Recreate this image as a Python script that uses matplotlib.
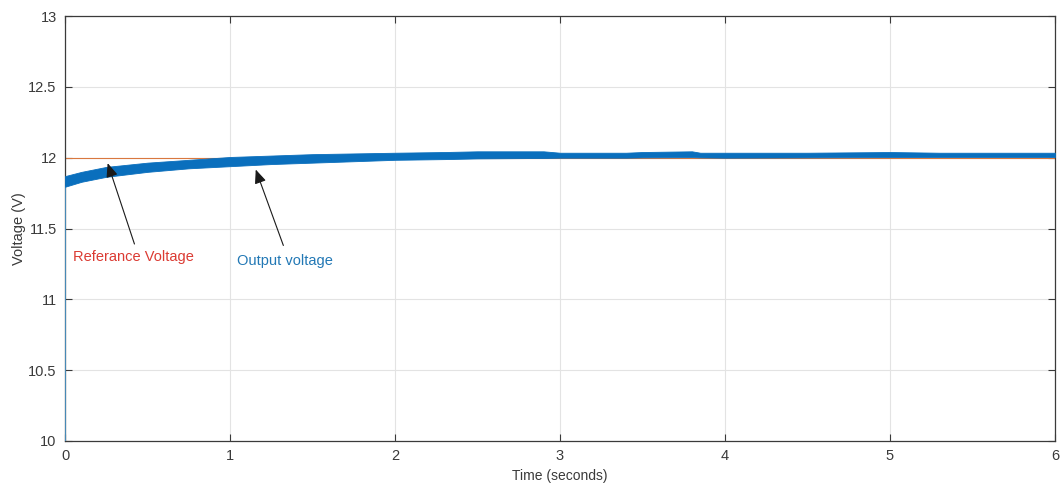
import matplotlib
matplotlib.use('Agg')
import matplotlib.pyplot as plt

plt.rcParams['font.family'] = ['Liberation Sans', 'DejaVu Sans']

# output voltage ripple envelope (upper / lower edge of the band)
t_env = [0.0, 0.1, 0.25, 0.5, 0.75, 1.0, 1.25, 1.5, 1.75, 2.0, 2.3, 2.5, 2.9,
         3.0, 3.4, 3.5, 3.8, 3.85, 4.0, 4.5, 5.0, 5.3, 6.0]
v_upper = [11.87, 11.90, 11.935, 11.965, 11.985, 12.005, 12.015, 12.025, 12.03,
           12.035, 12.04, 12.045, 12.045, 12.035, 12.035, 12.04, 12.045, 12.035,
           12.035, 12.035, 12.04, 12.035, 12.035]
v_lower = [11.795, 11.83, 11.865, 11.90, 11.925, 11.94, 11.955, 11.965, 11.975,
           11.985, 11.99, 11.995, 11.998, 12.0, 12.0, 12.002, 12.004, 12.002,
           12.0, 12.002, 12.004, 12.005, 12.005]
v_initial = 10.0

# reference voltage
t_ref = [0.0, 6.0]
v_ref = [12.0, 12.0]

x_ticks = [0, 1, 2, 3, 4, 5, 6]
y_ticks = [10, 10.5, 11, 11.5, 12, 12.5, 13]
y_labels = ['10', '10.5', '11', '11.5', '12', '12.5', '13']

fig = plt.figure(figsize=(10.61, 4.86), dpi=100)
ax = fig.add_axes([0.0613, 0.0926, 0.9330, 0.8744])

ax.plot(t_ref, v_ref, color='#D9783F', linewidth=0.8, zorder=2)
ax.plot([t_env[0], t_env[0]], [v_initial, v_lower[0]], color='#4a9ad0', linewidth=1.2, zorder=3)
ax.fill_between(t_env, v_lower, v_upper, color='#0a6fbd', linewidth=0.6,
                edgecolor='#0a6fbd', zorder=3)

ax.set_xlim(0, 6)
ax.set_ylim(10, 13)
ax.set_xticks(x_ticks)
ax.set_yticks(y_ticks)
ax.set_yticklabels(y_labels)
ax.grid(True, color='#e3e3e3', linewidth=0.8)
ax.set_axisbelow(True)
ax.tick_params(direction='in', length=5, top=True, right=True, colors='#3a3a3a',
               labelsize=10.5, pad=6)
for s in ax.spines.values():
    s.set_color('#3a3a3a')
    s.set_linewidth(0.9)

ax.set_xlabel('Time (seconds)', fontsize=10, color='#3a3a3a', labelpad=4)
ax.set_ylabel('Voltage (V)', fontsize=10.5, color='#3a3a3a', labelpad=1.5)

arrow = dict(arrowstyle='-|>,head_length=0.6,head_width=0.25', color='#1a1a1a',
             lw=0.8, mutation_scale=14)
ax.annotate('', xy=(0.253, 11.98), xytext=(0.426, 11.372), arrowprops=arrow, zorder=5)
ax.annotate('', xy=(1.15, 11.935), xytext=(1.329, 11.362), arrowprops=arrow, zorder=5)
ax.text(0.05, 11.30, 'Referance Voltage', color='#DB3B33', fontsize=10.5, va='center')
ax.text(1.04, 11.273, 'Output voltage', color='#2278B5', fontsize=10.5, va='center')

fig.savefig('out.png', dpi=100)
